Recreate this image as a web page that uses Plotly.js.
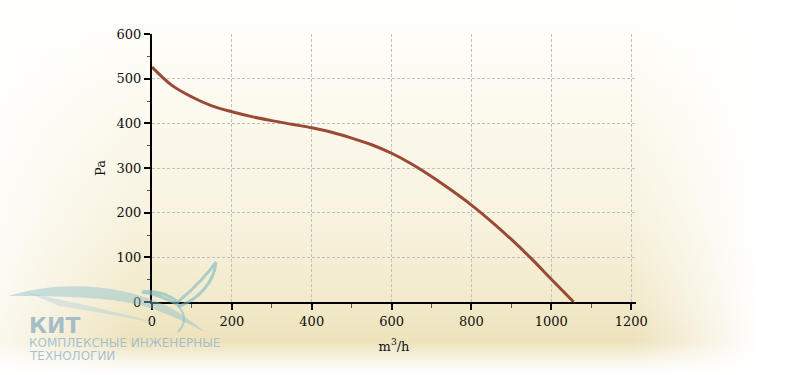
<!DOCTYPE html>
<html>
<head>
<meta charset="utf-8">
<script src="https://cdn.plot.ly/plotly-3.0.1.min.js"></script>
<style>
html,body{margin:0;padding:0;background:#fff;}
#wrap{position:relative;width:800px;height:375px;overflow:hidden;
background:
 linear-gradient(to right, rgba(255,255,255,0.75) 0%, rgba(255,255,255,0) 17%, rgba(255,255,255,0) 79%, rgba(255,255,255,1) 95%),
 linear-gradient(to bottom, #fffffd 0%, #fdfbf2 22%, #f8f3df 58%, #f2eacb 80%, #ede2bb 91%, #fbf8ef 97%, #ffffff 100%);}
#chart{position:absolute;left:0;top:0;width:800px;height:375px;}
#logo{position:absolute;left:0;top:0;width:800px;height:375px;pointer-events:none;}
</style>
</head>
<body>
<div id="wrap">
<div id="chart"></div>
<svg id="logo" width="800" height="375" viewBox="0 0 800 375">
 <path d="M8,296 C60,280 120,284 165,305 C180,312 192,322 205,332 C185,322 165,312 140,305 C100,296 50,296 8,296 Z" fill="rgba(140,190,205,0.45)"/>
 <path d="M25,292 C70,302 120,312 160,324 C150,322 110,314 60,306 Z" fill="rgba(160,200,215,0.35)"/>
 <path d="M142,292 C158,290 170,296 178,302 C192,290 205,278 216,262 C214,282 200,298 180,306 C170,300 158,294 142,292 Z" fill="none" stroke="rgba(120,185,195,0.6)" stroke-width="3"/>
 <path d="M178,306 C186,314 186,324 178,332" fill="none" stroke="rgba(120,185,195,0.5)" stroke-width="2"/>
</svg>
</div>
<script>
// Fan performance curve data
var flow = [0, 50, 100, 150, 200, 250, 300, 350, 400, 450, 500, 550, 600, 650, 700, 750, 800, 850, 900, 950, 1000, 1056];
var pressure = [526, 485, 459, 439, 426, 415, 406, 398, 390, 380, 367, 352, 333, 309, 281, 250, 217, 180, 140, 97, 51, 0];
var xTicks = [0, 200, 400, 600, 800, 1000, 1200];
var yTicks = [0, 100, 200, 300, 400, 500, 600];

var tickFont = {family: 'DejaVu Serif, serif', size: 13, color: '#111'};

var trace = {
  x: flow, y: pressure, type: 'scatter', mode: 'lines',
  line: {color: '#9a4a34', width: 3, shape: 'spline', smoothing: 1},
  hoverinfo: 'skip'
};

var L = 152, W = 484, T = 34, H = 268;
function px(x) { return (x - L) / W; }
function py(y) { return (T + H - y) / H; }

var layout = {
  width: 800, height: 375,
  margin: {l: 152, r: 164, t: 34, b: 73},
  paper_bgcolor: 'rgba(0,0,0,0)',
  plot_bgcolor: 'rgba(0,0,0,0)',
  showlegend: false,
  xaxis: {
    range: [0, 1212], tickvals: xTicks, ticktext: xTicks.map(String),
    showgrid: true, gridcolor: '#c0c0c0', griddash: '3px,2px', gridwidth: 1,
    zeroline: false, showline: true, linecolor: '#000', linewidth: 2,
    ticks: 'outside', ticklen: 6, tickwidth: 2, tickcolor: '#000',
    minor: {dtick: 100, tick0: 0, ticks: 'outside', ticklen: 4, tickwidth: 1, tickcolor: '#555', showgrid: false},
    tickfont: tickFont,
    title: {text: 'm<sup>3</sup>/h', font: {family: 'DejaVu Serif, serif', size: 13, color: '#111'}, standoff: 14},
    fixedrange: true
  },
  yaxis: {
    range: [0, 600], tickvals: yTicks, ticktext: yTicks.map(String),
    showgrid: true, gridcolor: '#c0c0c0', griddash: '3px,2px', gridwidth: 1,
    zeroline: false, showline: true, linecolor: '#000', linewidth: 2,
    ticks: 'outside', ticklen: 6, tickwidth: 2, tickcolor: '#000',
    minor: {dtick: 50, tick0: 0, ticks: 'outside', ticklen: 3, tickwidth: 1, tickcolor: '#555', showgrid: false},
    tickfont: tickFont,
    title: {text: 'Pa', font: {family: 'DejaVu Serif, serif', size: 13, color: '#111'}, standoff: 8},
    fixedrange: true
  },
  annotations: [
    {xref: 'paper', yref: 'paper', x: px(27), y: py(325), xanchor: 'left', yanchor: 'middle',
     text: '<b>КИТ</b>', showarrow: false, font: {family: 'DejaVu Sans, sans-serif', size: 22, color: 'rgba(150,180,195,0.85)'}},
    {xref: 'paper', yref: 'paper', x: px(27), y: py(343), xanchor: 'left', yanchor: 'middle',
     text: 'КОМПЛЕКСНЫЕ ИНЖЕНЕРНЫЕ', showarrow: false, font: {family: 'DejaVu Sans, sans-serif', size: 12, color: 'rgba(150,185,205,0.85)'}},
    {xref: 'paper', yref: 'paper', x: px(27), y: py(356), xanchor: 'left', yanchor: 'middle',
     text: 'ТЕХНОЛОГИИ', showarrow: false, font: {family: 'DejaVu Sans, sans-serif', size: 12, color: 'rgba(150,185,205,0.85)'}}
  ]
};

Plotly.newPlot('chart', [trace], layout, {displayModeBar: false, staticPlot: true});
</script>
</body>
</html>
